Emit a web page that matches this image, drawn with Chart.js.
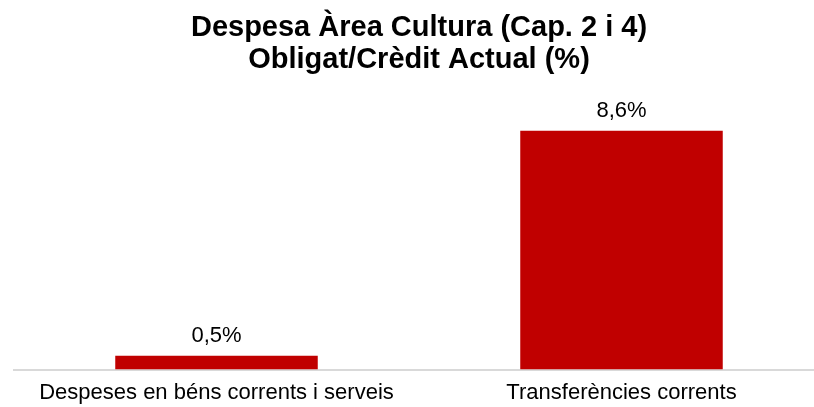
<!DOCTYPE html>
<html>
<head>
<meta charset="utf-8">
<script src="https://cdn.jsdelivr.net/npm/chart.js@4"></script>
<style>
  html, body { margin: 0; padding: 0; background: #fff; overflow: hidden; }
  #wrap { width: 830px; height: 419px; }
</style>
</head>
<body>
<div id="wrap"><canvas id="chart"></canvas></div>
<script>
const titleLines = ['Despesa Àrea Cultura (Cap. 2 i 4)', 'Obligat/Crèdit Actual (%)'];
const categories = ['Despeses en béns corrents i serveis', 'Transferències corrents'];
const values = [0.5, 8.6];
const valueLabels = ['0,5%', '8,6%'];

// simple label drawer above each bar
const barLabels = {
    id: 'barLabels',
    afterDatasetsDraw(chart) {
        const ctx = chart.ctx;
        const meta = chart.getDatasetMeta(0);
        ctx.save();
        ctx.font = '22px "Liberation Sans", Arial, sans-serif';
        ctx.fillStyle = '#000';
        ctx.textAlign = 'center';
        ctx.textBaseline = 'middle';
        meta.data.forEach((bar, i) => {
            ctx.fillText(valueLabels[i], bar.x, bar.y - 20);
        });
        ctx.restore();
    }
};

const data = {
    labels: categories,
    datasets: [{
        data: values,
        backgroundColor: '#C00000',
        borderWidth: 0,
        barPercentage: 0.5,
        categoryPercentage: 1
    }]
};

const config = {
    type: 'bar',
    data: data,
    options: {
        responsive: true,
        maintainAspectRatio: false,
        animation: false,
        layout: { padding: { left: 14, right: 6, top: 0, bottom: 3 } },
        plugins: {
            legend: { display: false },
            tooltip: { enabled: false },
            title: {
                display: true,
                text: titleLines,
                color: '#000',
                font: { family: '"Liberation Sans", Arial, sans-serif', size: 29, weight: 'bold', lineHeight: 1.1 },
                padding: { top: 12, bottom: 16 }
            }
        },
        scales: {
            x: {
                grid: { display: false, drawTicks: false },
                border: { display: true, color: '#d9d9d9', width: 2 },
                ticks: {
                    color: '#000',
                    padding: 10,
                    font: { family: '"Liberation Sans", Arial, sans-serif', size: 22 }
                }
            },
            y: {
                display: false,
                min: 0,
                max: 10
            }
        }
    },
    plugins: [barLabels]
};

new Chart(document.getElementById('chart').getContext('2d'), config);
</script>
</body>
</html>
